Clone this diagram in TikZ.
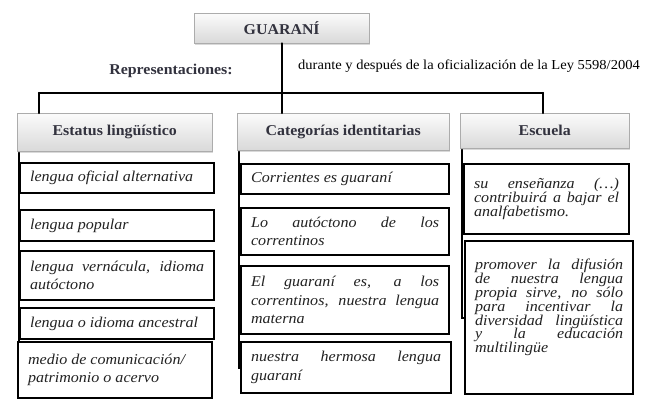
\documentclass[tikz,border=0pt]{standalone}
\usepackage{fontspec}
\setmainfont{Liberation Serif}
\newfontfamily\headfont[FakeStretch=1.06]{Liberation Serif}
\newfontfamily\itemfont[FakeStretch=1.07]{Liberation Serif}
\usepackage{xcolor}
\usepackage{tikz}
\usetikzlibrary{shadows,backgrounds}

\definecolor{headtext}{RGB}{50,50,62}
\definecolor{itemtext}{RGB}{34,34,34}

\begin{document}
\begin{tikzpicture}[x=1pt,y=-1pt,
        header/.style={draw=gray!65, top color=gray!3, bottom color=gray!30,
            drop shadow={opacity=0.3, shadow xshift=1pt, shadow yshift=-1.5pt},
            anchor=north west, inner sep=0pt, text=headtext,
            font=\headfont\fontsize{15}{17}\selectfont\bfseries},
        item/.style={draw=black, line width=2.2pt, fill=white, anchor=north west,
            align=justify, inner xsep=10pt, inner ysep=0pt, text=itemtext,
            font=\itemfont\fontsize{15}{18.5}\selectfont\itshape},
        tight/.style={font=\itemfont\fontsize{15}{13.8}\selectfont\itshape},
        bus/.style={line width=2.4pt, line cap=round},
        link/.style={line width=1.8pt}]
        \useasboundingbox (0,0) rectangle (650,403);

        \node[header, minimum width=175, minimum height=30] (guarani) at (194,13) {GUARANÍ};
        \node[text=headtext, font=\headfont\fontsize{15}{17}\selectfont\bfseries] (repr) at (171,71) {Representaciones:};
        \node[anchor=west, inner sep=0pt, font=\headfont\fontsize{13.7}{15}\selectfont] (ley) at (298,66) {durante y después de la oficialización de la Ley 5598/2004};

        \node[header, minimum width=195, minimum height=38] (estatus) at (17,113) {Estatus lingüístico};
        \node[header, minimum width=212, minimum height=37] (categorias) at (237,113) {Categorías identitarias};
        \node[header, minimum width=169, minimum height=35] (escuela) at (460,113) {Escuela};

        \coordinate (busL) at (39,93);
        \coordinate (busR) at (543,93);
        \draw[bus] (guarani.south) -- (guarani.south |- busL);
        \draw[bus] (busL) -- (busR);
        \draw[bus] (busL) -- (busL |- estatus.north);
        \draw[bus] (guarani.south |- busL) -- (guarani.south |- categorias.north);
        \draw[bus] (busR) -- (busR |- escuela.north);

        \node[item, text width=174, minimum height=30] (e1) at (19,162) {lengua oficial alternativa};
        \node[item, text width=174, minimum height=31] (e2) at (19,209) {lengua popular};
        \node[item, text width=174, minimum height=49] (e3) at (19,250) {lengua vernácula, idioma\linebreak autóctono};
        \node[item, text width=174, minimum height=31] (e4) at (19,307) {lengua o idioma ancestral};
        \node[item, text width=174, minimum height=56] (e5) at (17,341) {medio de comunicación/\\patrimonio o acervo};

        \node[item, text width=188, minimum height=30] (c1) at (240,163) {Corrientes es guaraní};
        \node[item, text width=188, minimum height=47] (c2) at (240,207) {Lo autóctono de los\linebreak correntinos};
        \node[item, text width=188, minimum height=68] (c3) at (240,265) {El guaraní es, a los\linebreak correntinos, nuestra lengua\linebreak materna};
        \node[item, text width=190, minimum height=51] (c4) at (240,341) {nuestra hermosa lengua\linebreak guaraní};

        \node[item, tight, text width=145, minimum height=70] (s1) at (463,163) {su enseñanza (…)\linebreak contribuirá a bajar el\linebreak analfabetismo.};
        \node[item, tight, text width=148, minimum height=153] (s2) at (464,240) {promover la difusión\linebreak de nuestra lengua\linebreak propia sirve, no sólo\linebreak para incentivar la\linebreak diversidad lingüística\linebreak y la educación\linebreak multilingüe\par\vspace*{20pt}};

        \begin{scope}[on background layer]
            \draw[link] ([xshift=2pt]estatus.south west) |- (e5.west);
            \draw[link] ([xshift=2pt]categorias.south west) |- (c4.west);
            \draw[link] ([xshift=2pt]escuela.south west) |- (s2.west);
        \end{scope}
    \end{tikzpicture}
\end{document}
